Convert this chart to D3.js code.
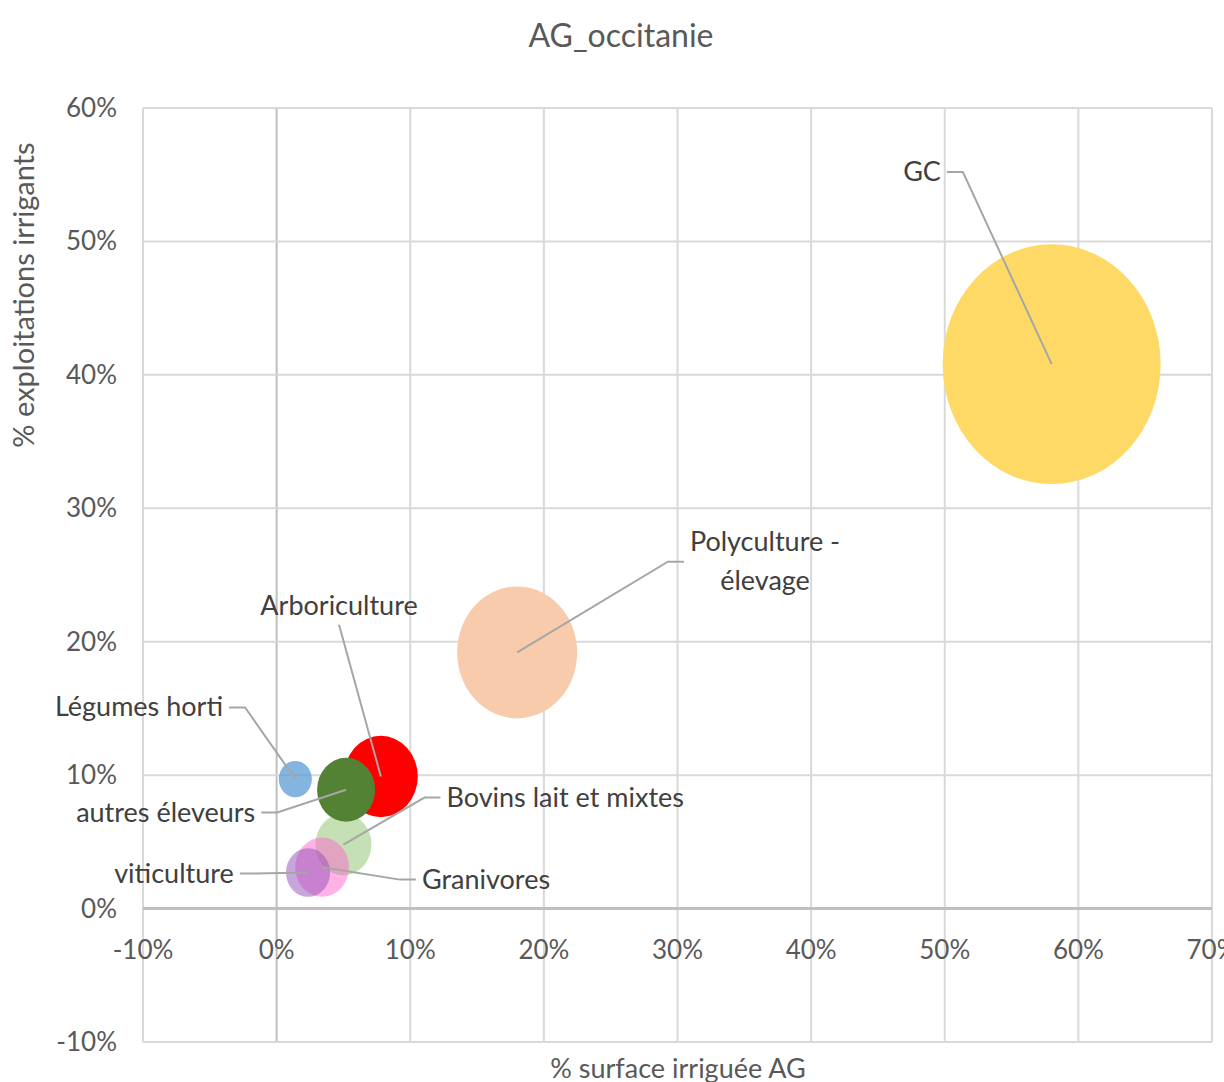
<!DOCTYPE html>
<html><head><meta charset="utf-8">
<script src="https://cdn.jsdelivr.net/npm/d3@7/dist/d3.min.js"></script>
<style>
body{margin:0;background:#fff;}
svg{display:block;font-family:Lato, "Open Sans", sans-serif;}
</style></head>
<body>
<svg id="chart" width="1224" height="1082"></svg>
<script>
// ---- data ----
const categories = ["GC","Polyculture - élevage","Bovins lait et mixtes","Arboriculture","Légumes horti","autres éleveurs","Granivores","viticulture"];
const xValues = [0.580, 0.180, 0.050, 0.078, 0.014, 0.052, 0.034, 0.0235];   // % surface irriguée AG
const yValues = [0.408, 0.192, 0.048, 0.099, 0.097, 0.089, 0.031, 0.027];    // % exploitations irrigants
const bubbleSizes = [100, 30.3, 6.6, 11.5, 2.3, 7.1, 6.1, 4.1];
const colors = ["#FFD966","#F8CBAD","#C5E0B4","#FF0000","#5B9BD5","#548235","#FF66CC","#9050B8"];
const opacities = [1, 1, 1, 1, 0.75, 1, 0.5, 0.5];
const xTicks = [-0.1,0,0.1,0.2,0.3,0.4,0.5,0.6,0.7];
const yTicks = [-0.1,0,0.1,0.2,0.3,0.4,0.5,0.6];
// label anchors (data units) and leader side
const labelX = [0.483, 0.3655, 0.216, 0.0467, -0.103, -0.083, 0.1567, -0.0768];
const labelY = [0.552, 0.260, 0.0832, 0.227, 0.1507, 0.072, 0.0217, 0.0262];
const labelSide = ["right","left","left","bottom","right","right","left","right"];
const labelLines = [["GC"],["Polyculture -","élevage"],["Bovins lait et mixtes"],["Arboriculture"],["Légumes horti"],["autres éleveurs"],["Granivores"],["viticulture"]];

// ---- layout ----
const svg = d3.select("#chart");
const x = d3.scaleLinear().domain([-0.1, 0.7]).range([143, 1212]);
const y = d3.scaleLinear().domain([-0.1, 0.6]).range([1042, 108]);
const r = d3.scaleSqrt().domain([0, d3.max(bubbleSizes)]).range([0, 109]);
const stretch = 1.1;
const pct = v => d3.format(".0%")(v).replace("\u2212", "-");

svg.append("rect").attr("width",1224).attr("height",1082).attr("fill","#fff");

// gridlines
svg.append("g").selectAll("line").data(xTicks).join("line")
  .attr("x1", d=>x(d)).attr("x2", d=>x(d)).attr("y1", y(0.6)).attr("y2", y(-0.1))
  .attr("stroke", d=> d===0 ? "#BFBFBF" : "#D9D9D9").attr("stroke-width", 2);
svg.append("g").selectAll("line").data(yTicks).join("line")
  .attr("y1", d=>y(d)).attr("y2", d=>y(d)).attr("x1", x(-0.1)).attr("x2", x(0.7))
  .attr("stroke", d=> d===0 ? "#BFBFBF" : "#D9D9D9").attr("stroke-width", d=> d===0 ? 3 : 2);

// tick labels
svg.append("g").selectAll("text").data(xTicks).join("text")
  .attr("x", d=>x(d)).attr("y", 959).attr("text-anchor","middle")
  .attr("font-size", 26).attr("fill","#595959").text(d=>pct(d));
svg.append("g").selectAll("text").data(yTicks).join("text")
  .attr("x", 117).attr("y", d=>y(d)+9).attr("text-anchor","end")
  .attr("font-size", 26).attr("fill","#595959").text(d=>pct(d));

// title & axis titles
svg.append("text").attr("x", 621).attr("y", 47).attr("text-anchor","middle")
  .attr("font-size", 32).attr("fill","#595959").text("AG_occitanie");
svg.append("text").attr("x", 678).attr("y", 1078).attr("text-anchor","middle")
  .attr("font-size", 27).attr("fill","#595959").text("% surface irriguée AG");
svg.append("text").attr("transform","translate(34,295) rotate(-90)").attr("text-anchor","middle")
  .attr("font-size", 29).attr("fill","#595959").text("% exploitations irrigants");

// bubbles
const idx = d3.range(categories.length);
svg.append("g").selectAll("ellipse").data(idx).join("ellipse")
  .attr("cx", i=>x(xValues[i])).attr("cy", i=>y(yValues[i]))
  .attr("rx", i=>r(bubbleSizes[i])).attr("ry", i=>r(bubbleSizes[i])*stretch)
  .attr("fill", i=>colors[i]).attr("fill-opacity", i=>opacities[i]);

// labels + leader lines
const lg = svg.append("g");
const leaders = svg.append("g");
idx.forEach(i=>{
  const lx = x(labelX[i]), ly = y(labelY[i]);
  const lines = labelLines[i];
  const lh = 39;
  const t = lg.append("text").attr("text-anchor","middle").attr("font-size",27).attr("fill","#404040");
  lines.forEach((s,k)=>{
    t.append("tspan").attr("x", lx).attr("y", ly + 9 + (k - (lines.length-1)/2)*lh).text(s);
  });
  const bb = t.node().getBBox();
  const cx = x(xValues[i]), cy = y(yValues[i]);
  let pts;
  if (labelSide[i]==="right") {
    const sx = bb.x + bb.width + 6;
    pts = [[sx, ly],[sx+16, ly],[cx, cy]];
  } else if (labelSide[i]==="left") {
    const sx = bb.x - 6;
    pts = [[sx, ly],[sx-16, ly],[cx, cy]];
  } else {
    pts = [[lx, bb.y + bb.height + 4],[cx, cy]];
  }
  leaders.append("path").attr("d", d3.line()(pts))
    .attr("fill","none").attr("stroke","#A6A6A6").attr("stroke-width",2);
});
</script>
</body></html>
